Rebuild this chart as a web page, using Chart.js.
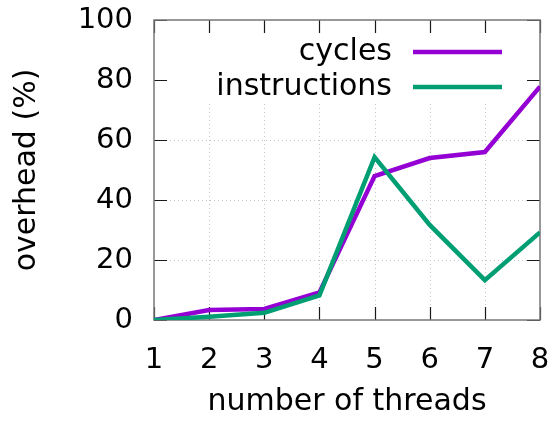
<!DOCTYPE html>
<html>
<head>
<meta charset="utf-8">
<script src="https://cdn.jsdelivr.net/npm/chart.js@4"></script>
<style>
  html, body { margin: 0; padding: 0; background: #fff; }
  #wrap { width: 554px; height: 424px; }
</style>
</head>
<body>
<div id="wrap"><canvas id="lineChart" width="554" height="424"></canvas></div>
<script>
const threads = [1, 2, 3, 4, 5, 6, 7, 8];
const cycles = [0, 3.3, 3.7, 9.2, 48, 54, 56, 77.8];
const instructions = [0, 1.1, 2.4, 8.2, 54.3, 31.7, 13.3, 29.2];
const yTicks = [0, 20, 40, 60, 80, 100];

const FONT = 'DejaVu Sans';
const PURPLE = '#9400d3';
const GREEN = '#009e73';

// gnuplot-like frame: dotted grid, opaque key box, inward ticks
const frame = {
  id: 'frame',
  beforeDatasetsDraw(chart) {
    const {ctx, chartArea: a, scales: {x, y}} = chart;
    ctx.save();
    ctx.strokeStyle = '#c4c4c4';
    ctx.lineWidth = 1;
    ctx.setLineDash([1, 3]);
    ctx.beginPath();
    threads.slice(1, -1).forEach(t => {
      const px = Math.round(x.getPixelForValue(t)) + 0.5;
      ctx.moveTo(px, a.top); ctx.lineTo(px, a.bottom);
    });
    yTicks.slice(1, -1).forEach(v => {
      const py = Math.round(y.getPixelForValue(v)) + 0.5;
      ctx.moveTo(a.left, py); ctx.lineTo(a.right, py);
    });
    ctx.stroke();
    ctx.setLineDash([]);

    // key box covers the grid
    ctx.fillStyle = '#fff';
    ctx.fillRect(a.left + 1, a.top + 1, a.right - a.left - 2, 83);

    // ticks
    ctx.strokeStyle = '#1a1a1a';
    ctx.lineWidth = 1.2;
    ctx.beginPath();
    yTicks.forEach(v => {
      const py = Math.round(y.getPixelForValue(v)) + 0.5;
      ctx.moveTo(a.left, py); ctx.lineTo(a.left + 13, py);
      ctx.moveTo(a.right, py); ctx.lineTo(a.right - 13, py);
    });
    threads.forEach(t => {
      const px = Math.round(x.getPixelForValue(t)) + 0.5;
      ctx.moveTo(px, a.bottom); ctx.lineTo(px, a.bottom - 13);
      ctx.moveTo(px, a.top); ctx.lineTo(px, a.top + 13);
    });
    ctx.stroke();

    // border
    ctx.strokeStyle = '#777';
    ctx.lineWidth = 1.5;
    ctx.strokeRect(a.left, a.top, a.right - a.left, a.bottom - a.top);
    ctx.restore();
  },
  afterDatasetsDraw(chart) {
    const {ctx} = chart;
    const items = [['cycles', PURPLE, 52], ['instructions', GREEN, 87]];
    ctx.save();
    ctx.font = '30px "' + FONT + '"';
    ctx.textAlign = 'right';
    ctx.textBaseline = 'middle';
    items.forEach(([label, color, py]) => {
      ctx.fillStyle = '#000';
      ctx.fillText(label, 392, py);
      ctx.strokeStyle = color;
      ctx.lineWidth = 4.5;
      ctx.beginPath();
      ctx.moveTo(413, py); ctx.lineTo(502, py);
      ctx.stroke();
    });
    ctx.restore();
  }
};

const ctx = document.getElementById('lineChart');

new Chart(ctx, {
  type: 'line',
  data: {
    datasets: [{
      label: 'instructions',
      data: threads.map((t, i) => ({x: t, y: instructions[i]})),
      borderColor: GREEN,
      borderWidth: 4.5,
      pointRadius: 0,
      tension: 0
    }, {
      label: 'cycles',
      data: threads.map((t, i) => ({x: t, y: cycles[i]})),
      borderColor: PURPLE,
      borderWidth: 4.5,
      pointRadius: 0,
      tension: 0
    }]
  },
  options: {
    responsive: false,
    animation: false,
    layout: { padding: { top: 20, right: 14, left: 0, bottom: 0 } },
    plugins: { legend: { display: false }, tooltip: { enabled: false } },
    scales: {
      x: {
        type: 'linear',
        min: 1,
        max: 8,
        afterFit(s) { s.height = 104; s.paddingLeft = 0; s.paddingRight = 0; },
        afterBuildTicks(s) { s.ticks = threads.map(v => ({value: v})); },
        grid: { display: false },
        border: { display: false },
        ticks: { color: '#000', padding: 15, font: { family: FONT, size: 29 }, maxRotation: 0 },
        title: {
          display: true,
          text: 'number of threads',
          color: '#000',
          font: { family: FONT, size: 30 },
          padding: { top: 0, bottom: 4 }
        }
      },
      y: {
        min: 0,
        max: 100,
        afterFit(s) { s.width = 154; s.paddingTop = 0; s.paddingBottom = 0; },
        afterBuildTicks(s) { s.ticks = yTicks.map(v => ({value: v})); },
        grid: { display: false, drawTicks: false },
        border: { display: false },
        ticks: { color: '#000', padding: 21, font: { family: FONT, size: 29 } },
        title: {
          display: true,
          text: 'overhead (%)',
          color: '#000',
          font: { family: FONT, size: 30 },
          padding: { top: 9, bottom: 0 }
        }
      }
    }
  },
  plugins: [frame]
});
</script>
</body>
</html>
